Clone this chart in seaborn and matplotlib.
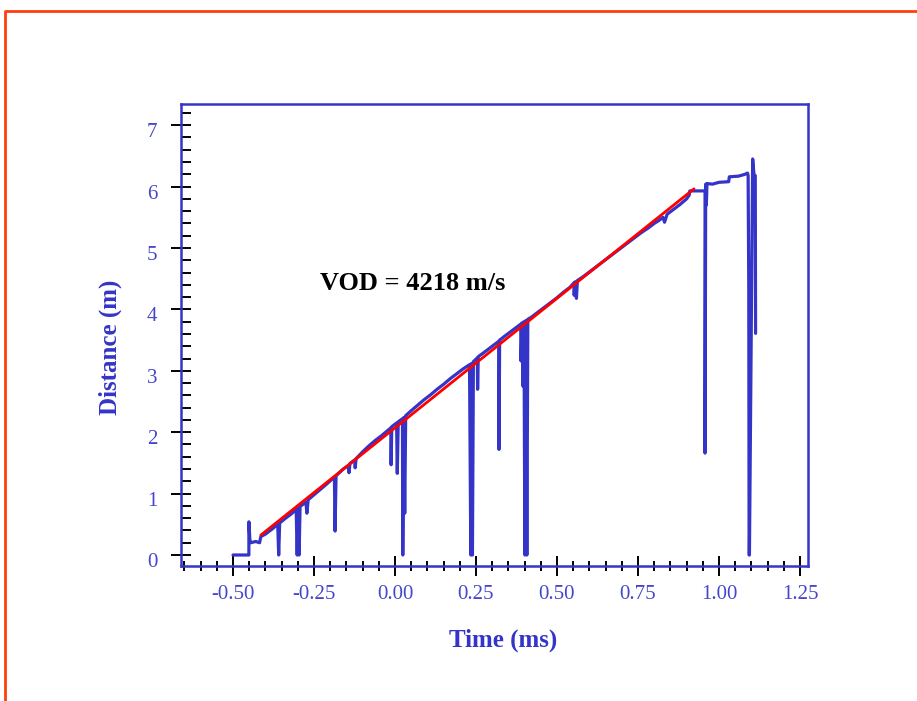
import matplotlib
matplotlib.use("Agg")
import matplotlib.pyplot as plt
import matplotlib.transforms as mtransforms
from matplotlib.lines import Line2D
from matplotlib.ticker import MultipleLocator, FormatStrFormatter
import seaborn as sns
import pandas as pd

# Probe position trace: time (ms) and distance along the hole (m)
time_ms = [
    -0.500, -0.451, -0.451, -0.448, -0.445, -0.430, -0.418, -0.414, -0.400, -0.380,
    -0.362, -0.359, -0.356, -0.340, -0.320, -0.305, -0.302, -0.299, -0.296, -0.293,
    -0.275, -0.272, -0.268, -0.250, -0.230, -0.210, -0.187, -0.185, -0.182, -0.160,
    -0.143, -0.142, -0.139, -0.124, -0.123, -0.120, -0.100, -0.080, -0.060, -0.040,
    -0.020, -0.013, -0.012, -0.010, 0.005, 0.007, 0.010, 0.023, 0.024, 0.027,
    0.030, 0.033, 0.050, 0.070, 0.090, 0.110, 0.130, 0.150, 0.170, 0.190,
    0.210, 0.230, 0.234, 0.236, 0.239, 0.242, 0.254, 0.255, 0.257, 0.270,
    0.290, 0.310, 0.320, 0.321, 0.323, 0.340, 0.360, 0.380, 0.388, 0.389,
    0.392, 0.395, 0.398, 0.401, 0.404, 0.407, 0.410, 0.420, 0.440, 0.460,
    0.480, 0.500, 0.520, 0.540, 0.552, 0.553, 0.556, 0.560, 0.563, 0.580,
    0.600, 0.620, 0.640, 0.660, 0.680, 0.700, 0.720, 0.740, 0.760, 0.780,
    0.800, 0.815, 0.827, 0.832, 0.840, 0.860, 0.880, 0.900, 0.908, 0.910,
    0.957, 0.957, 0.959, 0.961, 0.963, 0.980, 1.000, 1.030, 1.032, 1.060,
    1.080, 1.088, 1.090, 1.092, 1.093, 1.094, 1.104, 1.108, 1.112, 1.113,
]
distance_m = [
    0.00, 0.00, 0.54, 0.25, 0.20, 0.22, 0.20, 0.30, 0.34, 0.42,
    0.50, 0.00, 0.52, 0.59, 0.67, 0.74, 0.00, 0.76, 0.00, 0.79,
    0.86, 0.68, 0.90, 0.98, 1.07, 1.16, 1.27, 0.39, 1.29, 1.40,
    1.46, 1.34, 1.49, 1.55, 1.42, 1.57, 1.68, 1.78, 1.87, 1.95,
    2.04, 2.07, 1.47, 2.09, 2.15, 1.33, 2.17, 2.22, 0.00, 2.24,
    0.68, 2.27, 2.35, 2.44, 2.53, 2.61, 2.70, 2.78, 2.87, 2.95,
    3.03, 3.10, 0.00, 3.12, 0.00, 3.15, 3.21, 2.70, 3.23, 3.28,
    3.36, 3.44, 3.48, 1.72, 3.50, 3.57, 3.65, 3.73, 3.76, 3.16,
    3.78, 2.75, 3.80, 0.00, 3.82, 0.00, 3.84, 3.87, 3.95, 4.03,
    4.11, 4.19, 4.28, 4.36, 4.43, 4.23, 4.45, 4.18, 4.47, 4.53,
    4.61, 4.69, 4.77, 4.85, 4.93, 5.01, 5.09, 5.17, 5.25, 5.32,
    5.40, 5.45, 5.50, 5.42, 5.55, 5.63, 5.71, 5.80, 5.86, 5.93,
    5.93, 1.66, 6.04, 5.70, 6.05, 6.04, 6.07, 6.08, 6.16, 6.17,
    6.20, 6.22, 6.18, 4.32, 0.00, 0.00, 6.45, 6.20, 6.18, 3.61,
]

# Linear fit of the detonation front
vod_m_per_s = 4218
fit_origin_ms = -0.491
fit_span_ms = [-0.414, 0.923]
fit_distance_m = [vod_m_per_s / 1000.0 * (t - fit_origin_ms) for t in fit_span_ms]

x_ticks = [-0.50, -0.25, 0.00, 0.25, 0.50, 0.75, 1.00, 1.25]
y_ticks = [0, 1, 2, 3, 4, 5, 6, 7]

sns.set_style("white")
plt.rcParams["font.family"] = ["Liberation Serif", "DejaVu Serif"]
plt.rcParams["axes.unicode_minus"] = False

blue = "#3434c8"
tick_blue = "#4646cc"

fig = plt.figure(figsize=(9.17, 7.01), dpi=100)
ax = fig.add_axes([0.1974, 0.1926, 0.6837, 0.659])

trace = pd.DataFrame({"time": time_ms, "distance": distance_m})
fit = pd.DataFrame({"time": fit_span_ms, "distance": fit_distance_m})

sns.lineplot(data=trace, x="time", y="distance", sort=False, estimator=None,
             color=blue, linewidth=2.3, ax=ax, zorder=2)
sns.lineplot(data=fit, x="time", y="distance", sort=False, estimator=None,
             color="#ff0000", linewidth=2.0, ax=ax, zorder=3)

ax.set_xlim(-0.6605, 1.2747)
ax.set_ylim(-0.179, 7.345)

ax.set_xticks(x_ticks)
ax.set_yticks(y_ticks)
ax.xaxis.set_minor_locator(MultipleLocator(0.05))
ax.xaxis.set_major_formatter(FormatStrFormatter("%.2f"))
ax.yaxis.set_minor_locator(MultipleLocator(0.2))
ax.yaxis.set_major_formatter(FormatStrFormatter("%d"))

ax.tick_params(axis="x", which="major", direction="inout", length=14, width=1.4,
               color="black", labelcolor=tick_blue, labelsize=15, pad=7,
               bottom=True, top=False)
ax.tick_params(axis="x", which="minor", direction="inout", length=7, width=1.4,
               color="black", bottom=True, top=False)
ax.tick_params(axis="y", which="major", direction="inout", length=14, width=1.4,
               color="black", labelcolor=tick_blue, labelsize=15, pad=10,
               left=True, right=False)
ax.tick_params(axis="y", which="minor", direction="in", length=7, width=1.4,
               color="black", left=True, right=False)

# nudge the y tick labels slightly below their ticks
offset = mtransforms.ScaledTranslation(0, -5 / 100, fig.dpi_scale_trans)
for lab in ax.get_yticklabels():
    lab.set_transform(lab.get_transform() + offset)

for sp in ax.spines.values():
    sp.set_visible(True)
    sp.set_color(blue)
    sp.set_linewidth(1.8)

ax.set_xlabel("Time (ms)", fontsize=18, fontweight="bold", color=blue)
ax.set_ylabel("Distance (m)", fontsize=18, fontweight="bold", color=blue)
ax.xaxis.set_label_coords(0.5136, -0.160)
ax.xaxis.label.set_va("center")
ax.yaxis.set_label_coords(-0.113, 0.474)
ax.yaxis.label.set_va("center")

ax.text(-0.232, 4.43, f"VOD = {vod_m_per_s} m/s", fontsize=19, fontweight="bold",
        color="black", ha="left", va="center")

# page frame
frame = Line2D([0.0055, 0.0055, 1.01], [-0.01, 0.9843, 0.9843],
               transform=fig.transFigure, color="#ff3d0d", linewidth=2.0)
fig.add_artist(frame)

fig.savefig("out.png", dpi=100)
